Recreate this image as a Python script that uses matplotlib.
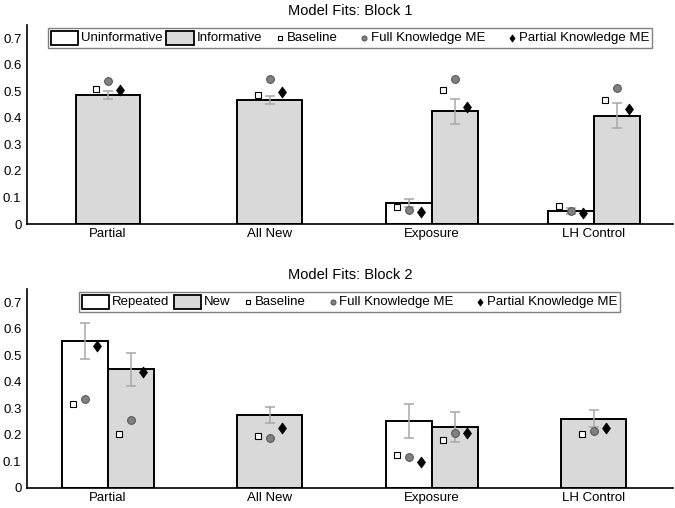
import numpy as np
import matplotlib
matplotlib.use("Agg")
import matplotlib.pyplot as plt
from matplotlib.patches import Rectangle
from matplotlib.lines import Line2D
from matplotlib.offsetbox import AnchoredOffsetbox, HPacker, TextArea, DrawingArea

plt.rcParams['font.family'] = ['Liberation Sans', 'DejaVu Sans']
plt.rcParams['font.size'] = 9.5

nan = np.nan
categories = ["Partial", "All New", "Exposure", "LH Control"]
y_ticks = [0, 0.1, 0.2, 0.3, 0.4, 0.5, 0.6, 0.7]
y_labels = ["0", "0.1", "0.2", "0.3", "0.4", "0.5", "0.6", "0.7"]
model_names = ["Baseline", "Full Knowledge ME", "Partial Knowledge ME"]

# block 1: uninformative / informative
b1_names = ["Uninformative", "Informative"]
b1_uninf = [nan, nan, 0.078, 0.049]
b1_uninf_err = [nan, nan, 0.015, 0.010]
b1_uninf_base = [nan, nan, 0.063, 0.068]
b1_uninf_full = [nan, nan, 0.053, 0.050]
b1_uninf_part = [nan, nan, 0.044, 0.043]
b1_inf = [0.487, 0.467, 0.424, 0.408]
b1_inf_err = [0.015, 0.015, 0.047, 0.047]
b1_inf_base = [0.508, 0.486, 0.506, 0.467]
b1_inf_full = [0.540, 0.545, 0.546, 0.512]
b1_inf_part = [0.506, 0.499, 0.440, 0.434]

# block 2: repeated / new
b2_names = ["Repeated", "New"]
b2_rep = [0.553, nan, 0.252, nan]
b2_rep_err = [0.068, nan, 0.063, nan]
b2_rep_base = [0.317, nan, 0.123, nan]
b2_rep_full = [0.335, nan, 0.117, nan]
b2_rep_part = [0.534, nan, 0.098, nan]
b2_new = [0.447, 0.274, 0.229, 0.260]
b2_new_err = [0.062, 0.030, 0.058, 0.032]
b2_new_base = [0.203, 0.195, 0.179, 0.201]
b2_new_full = [0.256, 0.189, 0.206, 0.215]
b2_new_part = [0.438, 0.225, 0.206, 0.227]

GRAY = '#d9d9d9'
FILLS = ['white', GRAY]
DIAMOND = [(0, 1), (0.72, 0), (0, -1), (-0.72, 0), (0, 1)]
MARKERS = [dict(marker='s', ms=4.2, mfc='white', mec='black', mew=0.8),
           dict(marker='o', ms=5.6, mfc='#808080', mec='#505050', mew=0.7),
           dict(marker=DIAMOND, ms=8, mfc='black', mec='black', mew=0.5)]


def make_legend(ax, bar_names):
    entries = []
    for name, fc in zip(bar_names, FILLS):
        da = DrawingArea(19.5, 10, 0, 0)
        da.add_artist(Rectangle((0, 0), 19.5, 10, facecolor=fc, edgecolor='black', lw=1.3))
        entries.append(HPacker(children=[da, TextArea(name)], sep=2, pad=0, align='center'))
    for name, style, w in zip(model_names, MARKERS, [13, 19, 19]):
        da = DrawingArea(w, 10, 0, 0)
        st = dict(style)
        st['ms'] = st['ms'] * 0.65
        da.add_artist(Line2D([w - 3], [5], linestyle='none', **st))
        entries.append(HPacker(children=[da, TextArea(name)], sep=2, pad=0, align='center'))
    box = HPacker(children=entries, sep=3, pad=0, align='center')
    anchored = AnchoredOffsetbox(loc='upper center', child=box, pad=0.22, borderpad=0.25,
                                 frameon=True, bbox_to_anchor=(0.5, 1.0),
                                 bbox_transform=ax.transAxes, prop=dict(size=9.5))
    anchored.patch.set_boxstyle('square', pad=0)
    anchored.patch.set_edgecolor('#808080')
    anchored.patch.set_linewidth(1.0)
    ax.add_artist(anchored)


def draw_block(ax, title, bar_names, series):
    x = np.arange(1, len(categories) + 1)
    for i in range(len(categories)):
        present = [k for k, s in enumerate(series) if not np.isnan(s[0][i])]
        if len(present) == 2:
            offsets, width = [-0.142, 0.142], 0.284
        else:
            offsets, width = [0.0], 0.40
        for off, k in zip(offsets, present):
            vals, err, base, full, part = series[k]
            pos = x[i] + off
            ax.bar(pos, vals[i], width=width, color=FILLS[k], edgecolor='black', lw=1.4, zorder=2)
            ax.errorbar(pos, vals[i], yerr=err[i], color='#a8a8a8', lw=1.1, capsize=3.6,
                        capthick=1.1, zorder=3)
            for d, pts, st in zip([-0.074, 0, 0.074], [base, full, part], MARKERS):
                ax.plot(pos + d, pts[i], linestyle='none', zorder=4, **st)
    ax.set_xlim(0.5, 4.49)
    ax.set_ylim(0, 0.75)
    ax.set_xticks(x)
    ax.set_xticklabels(categories)
    ax.set_yticks(y_ticks)
    ax.set_yticklabels(y_labels)
    ax.tick_params(length=0, pad=4, labelsize=9.5)
    ax.tick_params(axis='x', pad=3)
    for s in ['top', 'right']:
        ax.spines[s].set_visible(False)
    for s in ['left', 'bottom']:
        ax.spines[s].set_linewidth(1.2)
    ax.set_title(title, fontsize=10.5, pad=7)
    make_legend(ax, bar_names)


fig = plt.figure(figsize=(6.75, 5.08), dpi=100)
ax1 = fig.add_axes([0.04, 0.559, 0.957, 0.392])
ax2 = fig.add_axes([0.04, 0.040, 0.957, 0.391])

draw_block(ax1, "Model Fits: Block 1", b1_names,
           [(b1_uninf, b1_uninf_err, b1_uninf_base, b1_uninf_full, b1_uninf_part),
            (b1_inf, b1_inf_err, b1_inf_base, b1_inf_full, b1_inf_part)])
draw_block(ax2, "Model Fits: Block 2", b2_names,
           [(b2_rep, b2_rep_err, b2_rep_base, b2_rep_full, b2_rep_part),
            (b2_new, b2_new_err, b2_new_base, b2_new_full, b2_new_part)])

fig.savefig("out.png", dpi=100)
